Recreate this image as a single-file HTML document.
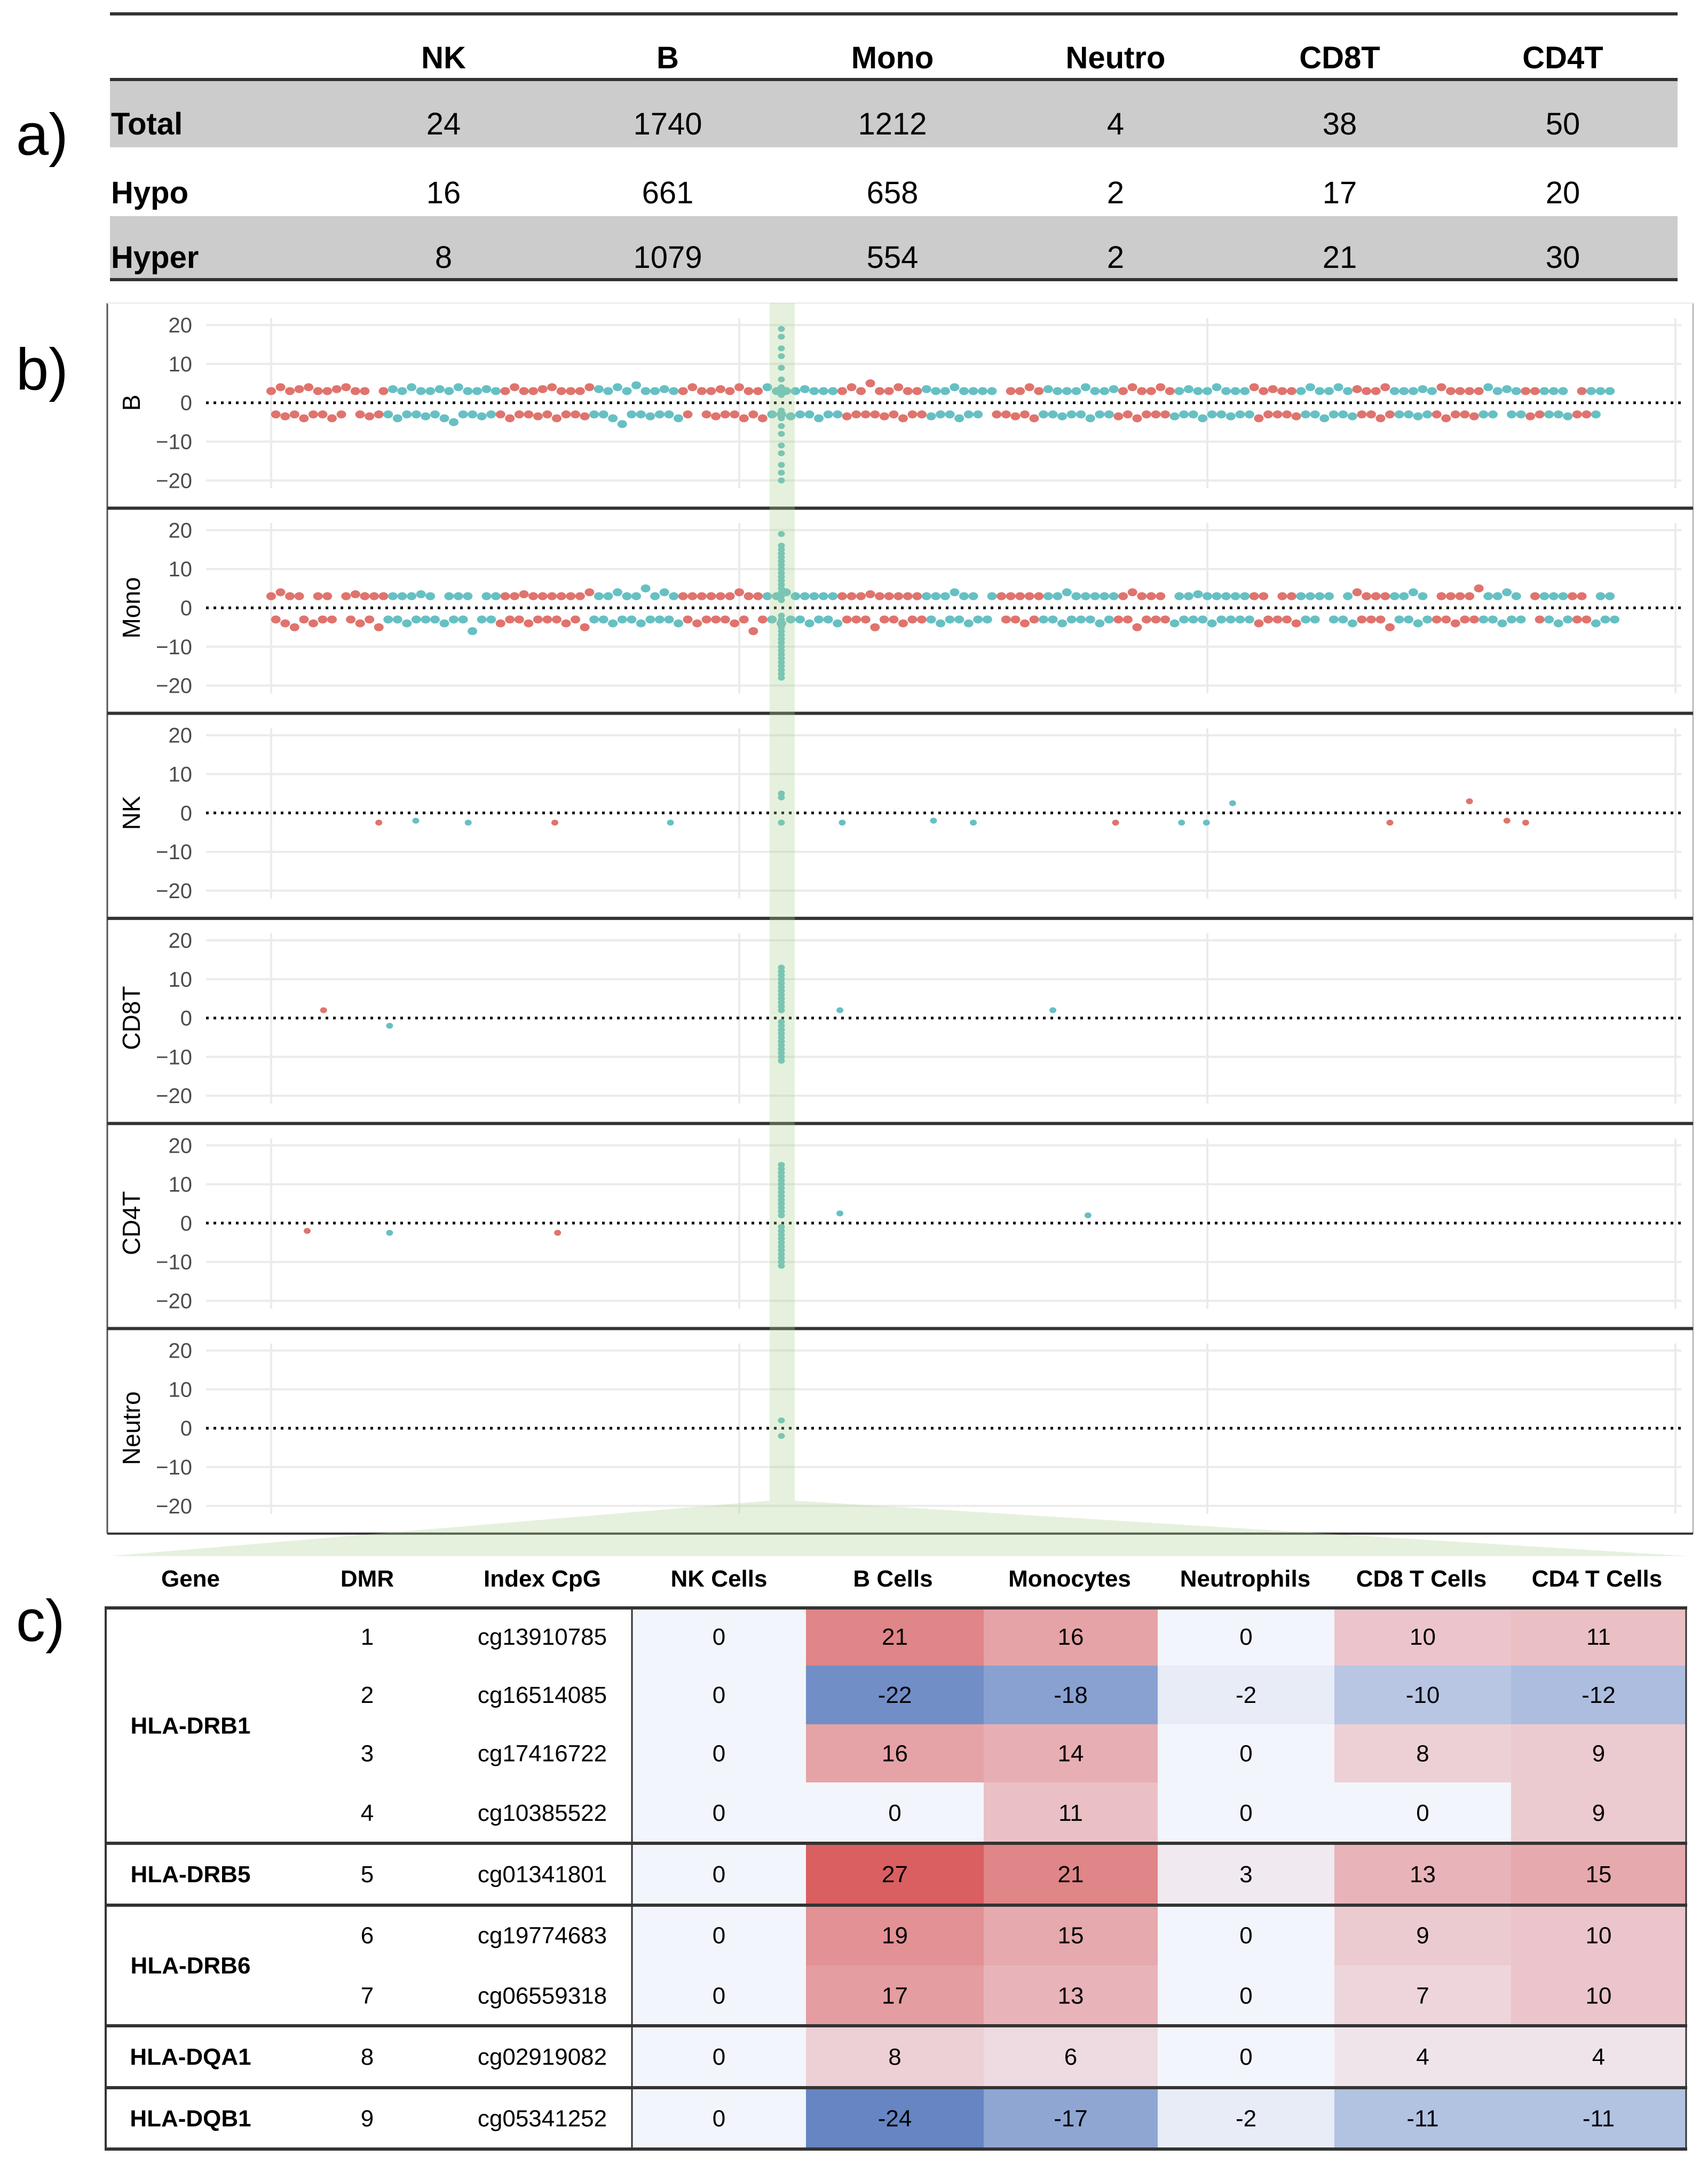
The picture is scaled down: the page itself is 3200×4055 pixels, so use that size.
<!DOCTYPE html>
<html><head><meta charset="utf-8">
<style>
html,body{margin:0;padding:0;background:#fff;}
svg{display:block;}
.nar{font-family:"Liberation Sans Narrow","Liberation Sans",sans-serif;}
</style></head>
<body>
<svg id="fig" width="3200" height="4055" viewBox="0 0 3200 4055" xmlns="http://www.w3.org/2000/svg">
<g id="tableA"></g>
<g id="panelB"></g>
<g id="tableC"></g>
</svg>
<script>
// ---------- data: table a ----------
const aCols = ["NK","B","Mono","Neutro","CD8T","CD4T"];
const aRows = ["Total","Hypo","Hyper"];
const aTotal = [24,1740,1212,4,38,50];
const aHypo = [16,661,658,2,17,20];
const aHyper = [8,1079,554,2,21,30];

// ---------- data: panel b ----------
const panelNames = ["B","Mono","NK","CD8T","CD4T","Neutro"];
const yTicks = [20,10,0,-10,-20];
const xGridTicks = [0,100,200,300];
const chrBreaks = [0,25,49,69,87.5,106,122,140,155,165,180.6,193,210,220,232,240,249,258.6,268,272,278,282,289];
const posUp = [0,2,4,6,8,10,12,14,16,18,20,22,24,26,28,30,32,34,36,38,40,42,44,46,48,50,52,54,56,58,60,62,64,66,68,70,72,74,76,78,80,82,84,86,88,90,92,94,96,98,100,102,104,106,108,110,112,114,116,118,120,122,124,126,128,130,132,134,136,138,140,142,144,146,148,150,152,154,156,158,160,162,164,166,168,170,172,174,176,178,180,182,184,186,188,190,192,194,196,198,200,202,204,206,208,210,212,214,216,218,220,222,224,226,228,230,232,234,236,238,240,242,244,246,248,250,252,254,256,258,260,262,264,266,268,270,272,274,276,278,280,282,284,286];
const posDown = [1,3,5,7,9,11,13,15,17,19,21,23,25,27,29,31,33,35,37,39,41,43,45,47,49,51,53,55,57,59,61,63,65,67,69,71,73,75,77,79,81,83,85,87,89,91,93,95,97,99,101,103,105,107,109,111,113,115,117,119,121,123,125,127,129,131,133,135,137,139,141,143,145,147,149,151,153,155,157,159,161,163,165,167,169,171,173,175,177,179,181,183,185,187,189,191,193,195,197,199,201,203,205,207,209,211,213,215,217,219,221,223,225,227,229,231,233,235,237,239,241,243,245,247,249,251,253,255,257,259,261,263,265,267,269,271,273,275,277,279,281,283,285,287];
const bUp = [3,4,3,3.5,4,3,3,3.5,4,3,3,null,3,3.5,3,4,3,3,3.5,3,4,3,3,3.5,3,3,4,3,3,3.5,4,3,3,3,4,3.5,3,4,3,4.5,3,3,3.5,3,3,4,3,3,3.5,3,4,3,3,4,3,3,3,3.5,3,3,3,3,4,3,5,3,3,4,3,3,3.5,3,3,4,3,3,3,3,null,3,3,4,3,3.5,3,3,3,4,3,3,3.5,3,4,3,3,4,3,3,3.5,3,3,4,3,3,3,4,3,3.5,3,3,3,4,3,3,4,3,3.5,3,3,4,3,3,3,3.5,3,4,3,3,3,3,4,3,3.5,3,3,3,3,3,3,null,3,3,3,3,3];
const bDown = [-3,-3.5,-3,-4,-3,-3,-4,-3,null,-3,-3.5,-3,-3,-4,-3,-3,-3.5,-3,-4,-5,-3,-3,-3.5,-3,-3,-4,-3,-3,-3.5,-3,-4,-3,-3,-3.5,-3,-3,-4,-5.5,-3,-3,-3.5,-3,-3,-4,-3,null,-3,-3.5,-3,-3,-4,-3,-4,-3,-3,-3.5,-3,-3,-4,-3,-3,-3.5,-3,-3,-3,-3.5,-3,-4,-3,-3,-3.5,-3,-3,-4,-3,-3,null,-3,-3,-3.5,-3,-4,-3,-3,-3.5,-3,-3,-4,-3,-3,-3.5,-3,-4,-3,-3,-3,-3.5,-3,-3,-4,-3,-3,-3.5,-3,-3,-4,-3,-3,-3,-3.5,-3,-3,-4,-3,-3,-3.5,-3,-3,-4,-3,-3,-3,-3.5,-3,-3,-4,-3,-3,-3.5,-3,-3,null,-3,-3,-3.5,-3,-3,-3,-3.5,-3,-3,-3];
const monoUp = [3,4,3,3,null,3,3,null,3,3.5,3,3,3,3,3,3,3.5,3,null,3,3,3,null,3,3,3,3,3.5,3,3,3,3,3,3,4,3,3,4,3,3,5,3,4,3,3,3,3,3,3,3,4,3,3,3,3,4,3,3,3,3,3,3,3,3,3.5,3,3,3,3,3,3,3,3,4,3,3,null,3,3,3,3,3,3,3,3,4,3,3,3,3,3,3,4,3,3,3,null,3,3,3.5,3,3,3,3,3,3,3,null,3,3,3,3,3,3,null,3,4,3,3,3,3,3,4,3,null,3,3,3,3,5,3,3,4,3,null,3,3,3,3,3,3,null,3,3,3,6];
const monoDown = [-3,-4,-5,-3,-4,-3,-3,null,-3,-4,-3,-5,-3,-3,-4,-3,-3,-3,-4,-3,-3,-6,-3,-3,-4,-3,-3,-4,-3,-3,-3,-4,-3,-5,-3,-3,-4,-3,-3,-4,-3,-3,-3,-4,-3,-4,-3,-3,-3,-4,-3,-6,-3,-3,-4,-3,-3,-4,-3,-3,-4,-3,-3,-3,-5,-3,-3,-4,-3,-3,-3,-4,-3,-3,-4,-3,-3,null,-3,-3,-4,-3,-3,-3,-4,-3,-3,-3,-4,-3,-3,-3,-5,-3,-3,-3,-4,-3,-3,-3,-4,-3,-3,-3,-3,-4,-3,-3,-3,-4,-3,-3,null,-3,-3,-4,-3,-3,-3,-5,-3,-3,-4,-3,-3,-3,-4,-3,-3,-3,-3,-4,-3,-3,null,-3,-3,-4,-3,-3,-3,-4,-3,-3,-3];
const spikePos = 109;
const bSpike = [19,17,14,12,9,6,4,3,2,-2,-3,-4,-6,-8,-11,-13,-16,-18,-20];
const monoSpike = [19,16,15,14,13,12,11,10,9,8,7,6,5,4,3,2,-2,-3,-4,-5,-6,-7,-8,-9,-10,-11,-12,-13,-14,-15,-16,-17,-18];
const nkX = [23,30.9,42.1,60.6,85.3,109,109,109,122,141.5,150,180.4,194.5,199.8,205.4,239,256,264,268];
const nkV = [-2.5,-2,-2.5,-2.5,-2.5,5,4,-2.5,-2.5,-2,-2.5,-2.5,-2.5,-2.5,2.5,-2.5,3,-2,-2.5];
const nkC = [0,1,1,0,1,1,1,1,1,1,1,0,1,1,1,0,0,0,0];
const cd8X = [11.2,25.3,121.5,167];
const cd8V = [2,-2,2,2];
const cd8C = [0,1,1,1];
const cd8Spike = [13,12,11,10,9,8,7,6,5,4,3,2,-1,-2,-3,-4,-5,-6,-7,-8,-9,-10,-11];
const cd4X = [7.7,25.3,61.2,121.5,174.5];
const cd4V = [-2,-2.5,-2.5,2.5,2];
const cd4C = [0,1,0,1,1];
const cd4Spike = [15,14,13,12,11,10,9,8,7,6,5,4,3,2,-1,-2,-3,-4,-5,-6,-7,-8,-9,-10,-11];
const neutroSpike = [2,-2];

// ---------- data: table c ----------
const cHeaders = ["Gene","DMR","Index CpG","NK Cells","B Cells","Monocytes","Neutrophils","CD8 T Cells","CD4 T Cells"];
const genes = ["HLA-DRB1","HLA-DRB5","HLA-DRB6","HLA-DQA1","HLA-DQB1"];
const geneRows = [4,1,2,1,1];
const dmrs = [1,2,3,4,5,6,7,8,9];
const cpgs = ["cg13910785","cg16514085","cg17416722","cg10385522","cg01341801","cg19774683","cg06559318","cg02919082","cg05341252"];
const nkVals = [0,0,0,0,0,0,0,0,0];
const bVals = [21,-22,16,0,27,19,17,8,-24];
const monoVals = [16,-18,14,11,21,15,13,6,-17];
const neutroVals = [0,-2,0,0,3,0,0,0,-2];
const cd8Vals = [10,-10,8,0,13,9,7,4,-11];
const cd4Vals = [11,-12,9,9,15,10,10,4,-11];

// ---------- drawing ----------
const NS = "http://www.w3.org/2000/svg";
function mk(tag, attrs, parent){ const e=document.createElementNS(NS,tag); for(const k in attrs) e.setAttribute(k,attrs[k]); parent.appendChild(e); return e; }
const RED="#E0736D", TEAL="#66C0C3";

// table a
(function(){
  const g=document.getElementById('tableA');
  const colX=[831,1251,1672,2090,2510,2928];
  mk('rect',{x:206,y:150,width:2937,height:126,fill:'#CCCCCC'},g);
  mk('rect',{x:206,y:405,width:2937,height:117,fill:'#CCCCCC'},g);
  [[26,6],[149,6],[524,6]].forEach(([y,w])=>{
    const l=mk('line',{x1:206,x2:3143,y1:y,y2:y,stroke:'#333',"stroke-width":w},g);
    
    
  });
  const lab=mk('text',{x:30,y:290,"font-size":110,"font-family":"Liberation Sans, sans-serif"},g); lab.textContent='a)';
   
  aCols.forEach((c,i)=>{ const t=mk('text',{x:colX[i],y:128,"text-anchor":"middle","font-size":58,"font-weight":"bold",class:'nar'},g); t.textContent=c;
      });
  const rowsY=[252,381,502]; const rowsV=[aTotal,aHypo,aHyper];
  aRows.forEach((r,j)=>{
    const t=mk('text',{x:208,y:rowsY[j],"font-size":58,"font-weight":"bold",class:'nar'},g); t.textContent=r;
     
    rowsV[j].forEach((v,i)=>{ const c=mk('text',{x:colX[i],y:rowsY[j],"text-anchor":"middle","font-size":58,class:'nar'},g); c.textContent=v;
        });
  });
})();

// panel b
(function(){
  const g=document.getElementById('panelB');
  const top0=568, ph=384.3, L=201, R=3172;
  const xs=u=>508+u*8.77;
  const chrColor=u=>{ for(let i=0;i<chrBreaks.length-1;i++){ if(u>=chrBreaks[i]&&u<chrBreaks[i+1]) return i%2===0?RED:TEAL; } return TEAL; };
  const lab=mk('text',{x:30,y:730,"font-size":110,"font-family":"Liberation Sans, sans-serif"},g); lab.textContent='b)';
   
  panelNames.forEach((name,p)=>{
    const top=top0+p*ph;
    const ys=v=>top+186.7-v*7.28;
    const pg=mk('g',{},g);
    
    
    xGridTicks.forEach(t=>{ mk('line',{x1:xs(t),x2:xs(t),y1:top+28,y2:top+347,stroke:'#EBEBEB',"stroke-width":4},pg); });
    yTicks.forEach(t=>{
      if(t!==0) mk('line',{x1:386,x2:3150,y1:ys(t),y2:ys(t),stroke:'#EBEBEB',"stroke-width":4},pg);
      const tl=mk('text',{x:360,y:ys(t)+14,"text-anchor":"end","font-size":40,fill:'#4D4D4D',class:'nar'},pg); tl.textContent=String(t).replace('-','\u2212');
       
    });
    const zl=mk('line',{x1:386,x2:3150,y1:ys(0),y2:ys(0),stroke:'#000',"stroke-width":5,"stroke-dasharray":"5 9"},pg);
     
    const at=mk('text',{x:0,y:0,"text-anchor":"middle","font-size":46,"font-family":"Liberation Sans, sans-serif",transform:`translate(262,${ys(0)}) rotate(-90)`},pg); at.textContent=name;
     
    const dot=(u,v,col,big)=>{ if(v===null||v===undefined) return; const d=mk('ellipse',{cx:xs(u),cy:ys(v),rx:big?9:6.5,ry:big?7.5:5.5,fill:col},pg);
        };
    if(name==='B'||name==='Mono'){
      const up=name==='B'?bUp:monoUp, dn=name==='B'?bDown:monoDown;
      for(let i=0;i<Math.min(posUp.length,up.length);i++) dot(posUp[i],up[i],chrColor(posUp[i]),true);
      for(let i=0;i<Math.min(posDown.length,dn.length);i++) dot(posDown[i],dn[i],chrColor(posDown[i]),true);
      (name==='B'?bSpike:monoSpike).forEach(v=>dot(spikePos,v,TEAL,false));
    } else if(name==='NK'){
      nkX.forEach((u,i)=>dot(u,nkV[i],nkC[i]?TEAL:RED));
    } else if(name==='CD8T'){
      cd8X.forEach((u,i)=>dot(u,cd8V[i],cd8C[i]?TEAL:RED)); cd8Spike.forEach(v=>dot(spikePos,v,TEAL));
    } else if(name==='CD4T'){
      cd4X.forEach((u,i)=>dot(u,cd4V[i],cd4C[i]?TEAL:RED)); cd4Spike.forEach(v=>dot(spikePos,v,TEAL));
    } else {
      neutroSpike.forEach(v=>dot(spikePos,v,TEAL));
    }
  });
  mk('line',{x1:L,x2:L,y1:top0,y2:top0+6*ph,stroke:'#555',"stroke-width":3},g);
  mk('line',{x1:R,x2:R,y1:top0,y2:top0+6*ph,stroke:'#BBB',"stroke-width":3},g);
  mk('line',{x1:L,x2:R,y1:top0,y2:top0,stroke:'#EEE',"stroke-width":3},g);
  for(let p=1;p<=6;p++){ const s=mk('line',{x1:L,x2:R,y1:top0+p*ph,y2:top0+p*ph,stroke:'#333',"stroke-width":p===6?4:6},g);
      }
  const hb=mk('polygon',{points:`1442,${top0} 1489,${top0} 1489,2812 3165,2916 204,2916 1442,2812`,fill:'#A8D08D',"fill-opacity":0.3},g);
   
})();

// table c
(function(){
  const g=document.getElementById('tableC');
  const rowT=[3013,3121,3231,3340,3454,3570,3683,3796,3912,4027];
  const colB=[1184,1510,1843,2169,2500,2831,3159];
  const hX=[357,688,1016,1347,1673,2004,2333,2663,2992];
  const lab=mk('text',{x:30,y:3075,"font-size":110,"font-family":"Liberation Sans, sans-serif"},g); lab.textContent='c)';
   
  cHeaders.forEach((h,i)=>{ const t=mk('text',{x:hX[i],y:2973,"text-anchor":"middle","font-size":44,"font-weight":"bold",class:'nar'},g); t.textContent=h;
      });
  const mix=(a,b,t)=>a.map((x,i)=>Math.round(x+(b[i]-x)*t));
  const col=v=>{ const w=[243,245,252]; const c=v>=0?mix(w,[217,95,97],Math.pow(Math.min(1,v/27),1.15)):mix(w,[102,133,194],Math.min(1,-v/24)); return `rgb(${c[0]},${c[1]},${c[2]})`; };
  const heat=[nkVals,bVals,monoVals,neutroVals,cd8Vals,cd4Vals];
  for(let r=0;r<9;r++){
    const y0=rowT[r], y1=rowT[r+1], cy=(y0+y1)/2+15;
    heat.forEach((arr,c)=>{
      const cell=mk('rect',{x:colB[c],y:y0,width:colB[c+1]-colB[c],height:y1-y0,fill:col(arr[r])},g);
       
      const t=mk('text',{x:(colB[c]+colB[c+1])/2,y:cy,"text-anchor":"middle","font-size":44,class:'nar'},g); t.textContent=arr[r];
       
    });
    const d=mk('text',{x:hX[1],y:cy,"text-anchor":"middle","font-size":44,class:'nar'},g); d.textContent=dmrs[r];
     
    const cp=mk('text',{x:hX[2],y:cy,"text-anchor":"middle","font-size":44,class:'nar'},g); cp.textContent=cpgs[r];
     
  }
  let ri=0;
  genes.forEach((gn,i)=>{
    const y0=rowT[ri], y1=rowT[ri+geneRows[i]];
    const t=mk('text',{x:hX[0],y:(y0+y1)/2+15,"text-anchor":"middle","font-size":44,"font-weight":"bold",class:'nar'},g); t.textContent=gn;
     
    const s=mk('line',{x1:196,x2:3161,y1:y0,y2:y0,stroke:'#333',"stroke-width":6},g);
     
    ri+=geneRows[i];
  });
  mk('line',{x1:196,x2:3161,y1:4027,y2:4027,stroke:'#333',"stroke-width":6},g);
  mk('line',{x1:198,x2:198,y1:3013,y2:4027,stroke:'#333',"stroke-width":4},g);
  mk('line',{x1:1184,x2:1184,y1:3013,y2:4027,stroke:'#333',"stroke-width":3},g);
  mk('line',{x1:3159,x2:3159,y1:3013,y2:4027,stroke:'#333',"stroke-width":3},g);
})();
</script>
</body></html>
